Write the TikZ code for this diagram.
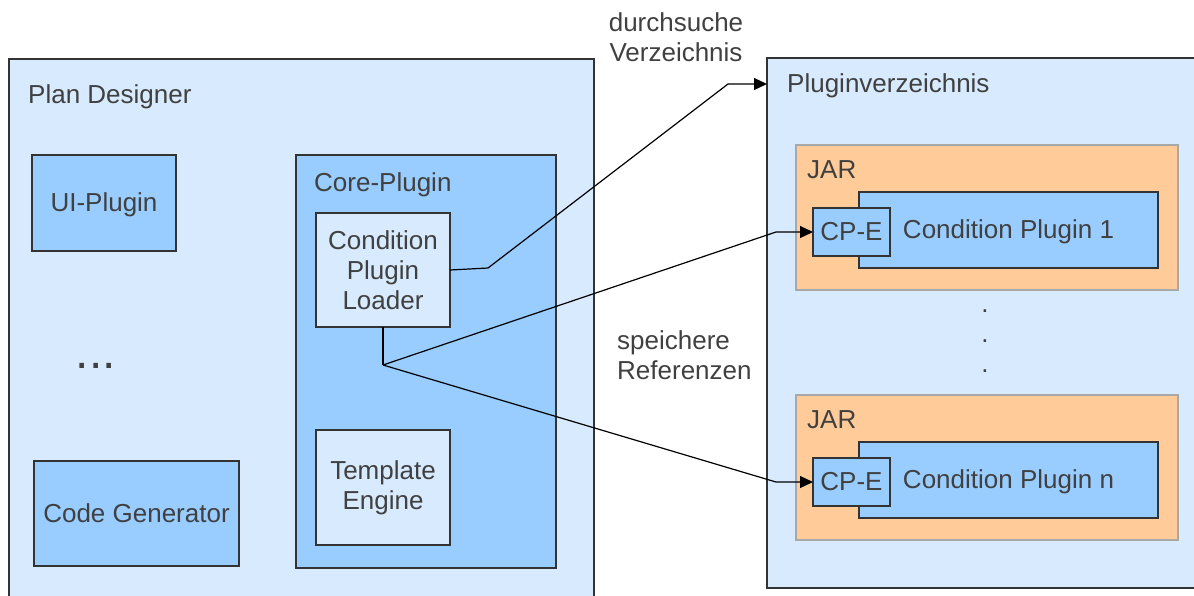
\documentclass[tikz,border=0pt]{standalone}
\usepackage{fontspec}
\setmainfont{Liberation Sans}
\usetikzlibrary{arrows.meta}
\definecolor{paleblue}{HTML}{D7EAFE}
\definecolor{midblue}{HTML}{99CCFF}
\definecolor{jarorange}{HTML}{FFCC99}
\definecolor{ink}{HTML}{404040}
\definecolor{edge}{HTML}{333333}
\definecolor{jaredge}{HTML}{A8A8A8}
\newcommand\dgmfont{\fontsize{26}{30}\selectfont}
\tikzset{
  box/.style={draw=edge, line width=1.2pt, inner sep=0pt, outer sep=0pt,
              anchor=north west, text=ink, align=center, font=\dgmfont},
  frame/.style={box, fill=paleblue},
  part/.style={box, fill=midblue},
  oneline/.style={text height=17pt, text depth=0pt},
  jar/.style={box, draw=jaredge, fill=jarorange},
  title/.style={anchor=base west, inner sep=0pt, text=ink, font=\dgmfont},
  caption/.style={inner sep=0pt, text=ink, font=\dgmfont},
  link/.style={draw=black, line width=1.2pt},
  arrowlink/.style={link, -{Triangle[length=13pt,width=12pt]}},
}
\begin{document}
\begin{tikzpicture}[x=1pt,y=-1pt]
  \useasboundingbox (0,0) rectangle (1194,595);
  \clip (0,0) rectangle (1194,595);

  % Plan Designer with its components
  \node[frame, minimum width=585, minimum height=560] (designer) at (9,59) {};
  \node[title] (designertitle) at (28,103) {Plan Designer};
  \node[part, oneline, minimum width=144, minimum height=96] (ui) at (32,155) {UI-Plugin};
  \node[caption, anchor=base, font=\fontsize{48}{50}\selectfont] (moreparts) at (96,368) {...};
  \node[part, oneline, minimum width=205, minimum height=105] (codegen) at (34,461) {Code Generator};

  % Core plugin
  \node[part, minimum width=260, minimum height=413] (core) at (296,155) {};
  \node[title] (coretitle) at (314,191) {Core-Plugin};
  \node[frame, minimum width=134, minimum height=114] (loader) at (316,213) {Condition\\Plugin\\Loader};
  \node[frame, minimum width=134, minimum height=115] (template) at (316,430) {\rule{0pt}{4pt}Template\\Engine};

  % Plugin directory
  \node[frame, minimum width=440, minimum height=530] (pv) at (767,58) {};
  \node[title] (pvtitle) at (787,92) {Pluginverzeichnis};

  \node[jar, minimum width=382, minimum height=145] (jarone) at (796,145) {};
  \node[title] (jaronetitle) at (807,178) {JAR};
  \node[part, oneline, minimum width=299, minimum height=76] (cpone) at (859,192) {Condition Plugin 1};
  \node[part, oneline, minimum width=77, minimum height=48] (cpeone) at (813,208) {CP-E};

  \node[caption, align=center] (vdots) at (985,341) {.\\.\\.};

  \node[jar, minimum width=382, minimum height=145] (jarn) at (796,395) {};
  \node[title] (jarntitle) at (807,428) {JAR};
  \node[part, oneline, minimum width=299, minimum height=76] (cpn) at (859,442) {Condition Plugin n};
  \node[part, oneline, minimum width=77, minimum height=48] (cpen) at (813,458) {CP-E};

  % Connector labels
  \node[caption, align=center] (searchlabel) at (676,37) {durchsuche\\Verzeichnis};
  \node[caption, align=left, anchor=west] (storelabel) at (617,355) {speichere\\Referenzen};

  % Connectors
  \coordinate (bendA) at (488,268);
  \coordinate (bendB) at (728,84);
  \draw[arrowlink] (loader.east) -- (bendA) -- (bendB) -- (pv.west |- bendB);

  \coordinate (split) at (383,365);
  \coordinate (bendC) at (776,232);
  \coordinate (bendD) at (776,482);
  \draw[link] (loader.south) -- (split);
  \draw[arrowlink] (split) -- (bendC) -- (cpeone.west);
  \draw[arrowlink] (split) -- (bendD) -- (cpen.west);
\end{tikzpicture}
\end{document}
